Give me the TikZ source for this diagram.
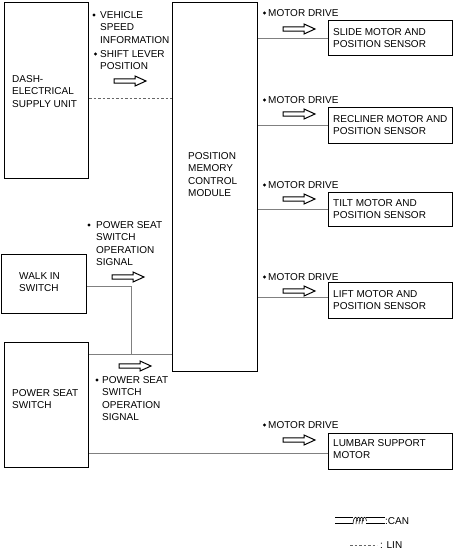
\documentclass[tikz,border=0pt]{standalone}
\usepackage{fontspec}
\setmainfont{Liberation Sans}
\begin{document}
\begin{tikzpicture}[x=1pt,y=-1pt,
  box/.style={draw, line width=1.2pt, inner sep=0pt, anchor=north west},
  lbl/.style={anchor=north west, inner sep=0pt, align=left, font=\fontsize{10}{12.3}\selectfont},
  wire/.style={draw=black!50, line width=0.8pt},
  lin/.style={draw=black!60, line width=0.8pt, dash pattern=on 2.5pt off 2pt},
  dot/.style={circle, fill, inner sep=0pt, minimum size=3.2pt},
  harrow/.pic={\draw[line width=1pt] (0,-2.2) -- (21,-2.2) -- (21,-5) -- (32,0) -- (21,5) -- (21,2.2) -- (0,2.2) -- cycle;}]
\useasboundingbox (0,0) rectangle (454,552);

% boxes
\node[box, minimum width=84pt, minimum height=176pt] (dash) at (4,2) {};
\node[box, minimum width=85pt, minimum height=369pt] (pmcm) at (172,2) {};
\node[box, minimum width=124pt, minimum height=35pt] (slide) at (328,20) {};
\node[box, minimum width=124pt, minimum height=36pt] (recl) at (328,107) {};
\node[box, minimum width=124pt, minimum height=34pt] (tilt) at (328,192) {};
\node[box, minimum width=124pt, minimum height=36pt] (lift) at (328,282) {};
\node[box, minimum width=124pt, minimum height=36pt] (lumb) at (328,433) {};
\node[box, minimum width=85pt, minimum height=59pt] (walk) at (1,254) {};
\node[box, minimum width=84pt, minimum height=125pt] (pss) at (4,342) {};

% box texts
\node[lbl] (tdash) at (12,75.4) {DASH-\\ELECTRICAL\\SUPPLY UNIT};
\node[lbl] (tpmcm) at (188,152.4) {POSITION\\MEMORY\\CONTROL\\MODULE};
\node[lbl] (tslide) at (333,28.4) {SLIDE MOTOR AND\\POSITION SENSOR};
\node[lbl] (trecl) at (333,115.4) {RECLINER MOTOR AND\\POSITION SENSOR};
\node[lbl] (ttilt) at (333,199.4) {TILT MOTOR AND\\POSITION SENSOR};
\node[lbl] (tlift) at (333,290.4) {LIFT MOTOR AND\\POSITION SENSOR};
\node[lbl] (tlumb) at (333,439.4) {LUMBAR SUPPORT\\MOTOR};
\node[lbl] (twalk) at (19,272.4) {WALK IN\\SWITCH};
\node[lbl] (tpss) at (12,389.4) {POWER SEAT\\SWITCH};

% signal labels
\node[dot] (d1) at (94,15) {};
\node[lbl] (veh) at (100,11.4) {VEHICLE\\SPEED\\INFORMATION};
\node[dot] (d2) at (95.5,54) {};
\node[lbl] (shift) at (100,50.4) {SHIFT LEVER\\POSITION};
\node[dot] (d3) at (89,225) {};
\node[lbl] (psu) at (96,221.4) {POWER SEAT\\SWITCH\\OPERATION\\SIGNAL};
\node[dot] (d4) at (97,380) {};
\node[lbl] (psl) at (102,376.4) {POWER SEAT\\SWITCH\\OPERATION\\SIGNAL};
\foreach \n/\y in {m1/13, m2/100, m3/185, m4/277, m5/425} {
  \node[dot] (\n d) at (264.5,\y) {};
  \node[lbl] (\n) at (268,\y-3.6) {MOTOR DRIVE};
}

% hollow arrows
\pic at (114,81) {harrow};
\pic at (112,277) {harrow};
\pic at (119,366) {harrow};
\foreach \y in {29,114,199,291,440} { \pic at (283,\y) {harrow}; }

% connectors
\draw[lin] ([yshift=-8pt]dash.east) -- ([yshift=-8pt]dash.east -| pmcm.west);
\draw[wire] (slide.west) -- (slide.west -| pmcm.east);
\draw[wire] (recl.west) -- (recl.west -| pmcm.east);
\draw[wire] (tilt.west) -- (tilt.west -| pmcm.east);
\draw[wire] ([yshift=3pt]lift.west) -- ([yshift=3pt]lift.west -| pmcm.east);
\draw[wire] ([yshift=-2pt]lumb.west) -- ([yshift=-2pt]lumb.west -| pss.east);
\coordinate (pj) at (131,354);
\draw[wire] ([yshift=-12pt]pss.north east) -- ([yshift=-12pt]pss.north east -| pmcm.west);
\draw[wire] ([yshift=-2.5pt]walk.east) -- ([yshift=-2.5pt]walk.east -| pj) -- (pj);

% legend
\draw[line width=0.7pt] (335,517.5) -- (353,517.5) (335,523.5) -- (353,523.5);
\draw[line width=0.7pt] (366,517.5) -- (385,517.5) (366,523.5) -- (385,523.5);
\foreach \i in {0,1,2,3} {
  \draw[line width=0.6pt] (353+3*\i,524) .. controls (353.5+3*\i,515.5) and (357+3*\i,515.5) .. (357.5+3*\i,521);
}
\node[lbl] (can) at (385,517.4) {:CAN};
\draw[lin] (350,545) -- (377,545);
\node[lbl] (linl) at (380,541.4) {: LIN};
\end{tikzpicture}
\end{document}
